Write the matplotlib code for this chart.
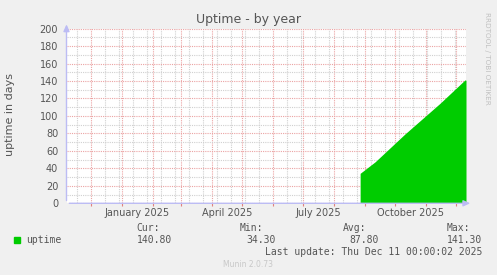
import matplotlib
matplotlib.use("Agg")
import matplotlib.pyplot as plt
import matplotlib.dates as mdates
from matplotlib.transforms import blended_transform_factory
import numpy as np
import pandas as pd

# ---- data ----
dates = ['2025-08-27', '2025-09-11', '2025-09-26', '2025-10-11',
         '2025-11-15', '2025-12-10', '2025-12-11']
uptime = [34.3, 47.5, 63.5, 79.5, 114.5, 141.3, 140.8]

x_start = '2024-11-06 00:00:02'
x_end = '2025-12-11 00:00:02'
label_dates = ['2025-01-16', '2025-04-16', '2025-07-16', '2025-10-16']
label_texts = ['January 2025', 'April 2025', 'July 2025', 'October 2025']
yticks = [0, 20, 40, 60, 80, 100, 120, 140, 160, 180, 200]

stat_names = ['Cur:', 'Min:', 'Avg:', 'Max:']
stat_values = ['140.80', '34.30', '87.80', '141.30']

W, H = 497, 275
fig = plt.figure(figsize=(W / 100, H / 100), dpi=100, facecolor='#F0F0F0')
L, R, T, B = 66.5, 466, 28.6, 203.3
ax = fig.add_axes([L / W, 1 - B / H, (R - L) / W, (B - T) / H])
ax.set_facecolor('white')

xd = pd.to_datetime(dates)
ax.fill_between(xd, 0, uptime, color='#00CC00', lw=0, zorder=5)

ax.set_xlim(pd.Timestamp(x_start), pd.Timestamp(x_end))
ax.set_ylim(0, 200)

# grid
ax.xaxis.set_major_locator(mdates.MonthLocator())
minor_dates = pd.date_range('2024-11-17', x_end, freq='14D')
ax.set_xticks(minor_dates, minor=True)
ax.set_xticklabels([])
ax.set_yticks(yticks)
ax.set_yticks(np.arange(10, 200, 20), minor=True)
ax.grid(which='major', color='#EBA3A3', linestyle=(0, (1, 1)), lw=0.8, zorder=3)
ax.grid(which='minor', color='#D0D0D0', linestyle=(0, (1, 1)), lw=0.8, zorder=2)
ax.set_axisbelow(True)

ax.tick_params(axis='x', which='major', length=2, color='#E08080', direction='out')
ax.tick_params(axis='x', which='minor', length=0)
ax.tick_params(axis='y', which='both', length=0, pad=6, labelsize=7, labelcolor='#555555')
for s in ax.spines.values():
    s.set_visible(False)

tr = blended_transform_factory(ax.transData, ax.transAxes)
for d, t in zip(label_dates, label_texts):
    ax.text(pd.Timestamp(d), -0.057, t, transform=tr, ha='center', va='center',
            fontsize=7, color='#555555')

# axis arrows
acol = '#BCBCF4'
ax.annotate('', xy=(0, 1 + 7 / (B - T)), xytext=(0, 0), xycoords='axes fraction',
            arrowprops=dict(arrowstyle='-|>,head_length=0.4,head_width=0.18', color=acol, lw=1),
            annotation_clip=False, zorder=6)
ax.annotate('', xy=(1 + 7 / (R - L), 0), xytext=(0, 0), xycoords='axes fraction',
            arrowprops=dict(arrowstyle='-|>,head_length=0.4,head_width=0.18', color=acol, lw=1),
            annotation_clip=False, zorder=6)

# texts in figure pixels
def ft(x, y, s, **kw):
    fig.text(x / W, 1 - y / H, s, **kw)

ft(249, 19.5, 'Uptime - by year', ha='center', va='center', fontsize=9, color='#555555')
ft(10, 115, 'uptime in days', ha='center', va='center', rotation=90, fontsize=8, color='#555555')
ft(487, 58, 'RRDTOOL / TOBI OETIKER', ha='center', va='center', rotation=-90,
   fontsize=5.2, color='#C0C0C0')

mono = dict(family='DejaVu Sans Mono', fontsize=7, color='#555555', va='center')
fig.patches.append(plt.Rectangle((14 / W, 1 - 242.5 / H), 6 / W, 6 / H,
                                 transform=fig.transFigure, color='#00CC00'))
ft(26.5, 239.8, 'uptime', ha='left', **mono)
name_x = [136.3, 240.0, 343.3, 446.7]
val_right = [172.0, 276.0, 378.3, 482.3]
for nx, vr, n, v in zip(name_x, val_right, stat_names, stat_values):
    ft(nx, 228, n, ha='left', **mono)
    ft(vr, 239.8, v, ha='right', **mono)
ft(482.3, 251.7, 'Last update: Thu Dec 11 00:00:02 2025', ha='right', **mono)
ft(248, 264.5, 'Munin 2.0.73', ha='center', va='center', fontsize=5.5, color='#C8C8C8')

fig.savefig('out.png', dpi=100, facecolor=fig.get_facecolor())
